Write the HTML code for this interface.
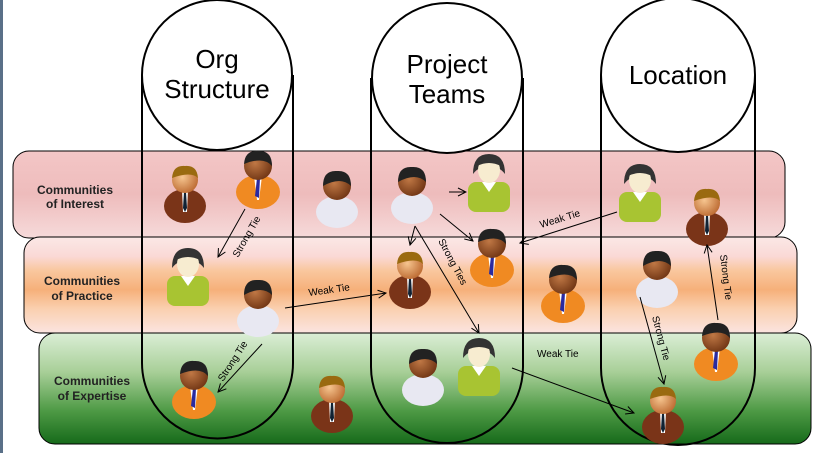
<!DOCTYPE html>
<html><head><meta charset="utf-8"><style>
body{margin:0;background:#fff;width:822px;height:453px;overflow:hidden}
svg{display:block;font-family:"Liberation Sans",Arial,sans-serif}
</style></head><body>
<svg width="822" height="453" viewBox="0 0 822 453" xmlns="http://www.w3.org/2000/svg">
<defs>
<linearGradient id="gi" x1="0" y1="0" x2="0" y2="1"><stop offset="0" stop-color="#f3c6c6"/><stop offset="0.5" stop-color="#eebcbc"/><stop offset="1" stop-color="#f6dada"/></linearGradient>
<linearGradient id="gp" x1="0" y1="0" x2="0" y2="1"><stop offset="0" stop-color="#fbe8e6"/><stop offset="0.2" stop-color="#fad9d6"/><stop offset="0.35" stop-color="#f9c79e"/><stop offset="0.55" stop-color="#f6b07a"/><stop offset="0.75" stop-color="#fad0b0"/><stop offset="1" stop-color="#fbe4e0"/></linearGradient>
<linearGradient id="ge" x1="0" y1="0" x2="0" y2="1"><stop offset="0" stop-color="#dbeed6"/><stop offset="0.35" stop-color="#a8cf98"/><stop offset="0.7" stop-color="#4e9a45"/><stop offset="1" stop-color="#166a1a"/></linearGradient>
<radialGradient id="skin" cx="0.4" cy="0.4" r="0.7"><stop offset="0" stop-color="#f6c58f"/><stop offset="1" stop-color="#b8632a"/></radialGradient>
<radialGradient id="skin2" cx="0.4" cy="0.4" r="0.7"><stop offset="0" stop-color="#c07845"/><stop offset="1" stop-color="#6a3010"/></radialGradient>
<marker id="ar" markerWidth="10" markerHeight="10" refX="9" refY="5" orient="auto" markerUnits="userSpaceOnUse"><path d="M1,1 L9,5 L1,9" fill="none" stroke="#000" stroke-width="1"/></marker>
<g id="brown"><ellipse cx="0" cy="34" rx="21" ry="17" fill="#7a3418"/><path d="M-3,18 L3,18 L2,40 L-2,40Z" fill="#fff"/><path d="M-1,20 L1,20 L2,36 L0,40 L-2,36Z" fill="#123"/><circle cx="0" cy="8" r="13" fill="url(#skin)"/><path d="M-13,6 Q-12,-7 0,-6 Q12,-7 13,6 Q6,-1 -13,6Z" fill="#9a6a10"/></g>
<g id="orange"><ellipse cx="0" cy="34" rx="22" ry="17" fill="#f08a22"/><path d="M-4,18 L4,18 L1,42 L-1,42Z" fill="#fff"/><path d="M-1,20 L2,20 L1,40 L-3,38Z" fill="#2a2aa0"/><circle cx="0" cy="8" r="14" fill="url(#skin2)"/><path d="M-14,6 Q-13,-8 0,-7 Q14,-8 14,8 Q6,-2 -14,6Z" fill="#222"/></g>
<g id="white"><ellipse cx="0" cy="34" rx="21" ry="16" fill="#e8e8f2"/><circle cx="0" cy="8" r="14" fill="url(#skin2)"/><path d="M-14,8 Q-14,-8 0,-7 Q14,-8 14,8 Q4,-2 -14,8Z" fill="#222"/></g>
<g id="green"><rect x="-21" y="20" width="42" height="30" rx="8" fill="#a8c432"/><path d="M-7,20 L0,30 L7,20Z" fill="#fff"/><path d="M-16,12 Q-16,-8 0,-8 Q16,-8 16,12 Q10,4 0,4 Q-10,4 -16,12Z" fill="#333"/><ellipse cx="0" cy="8" rx="11" ry="13" fill="#f7ecd0"/><path d="M-12,4 Q-10,-7 0,-7 Q10,-7 12,4 Q0,-2 -12,4Z" fill="#333"/></g>
</defs>
<rect x="0" y="0" width="3" height="453" fill="#5a7088"/>
<rect x="13" y="151" width="772" height="87" rx="16" fill="url(#gi)" stroke="#000" stroke-width="1"/>
<rect x="24" y="237" width="773" height="96" rx="16" fill="url(#gp)" stroke="#000" stroke-width="1"/>
<rect x="39" y="333" width="772" height="111" rx="16" fill="url(#ge)" stroke="#000" stroke-width="1"/>
<g font-size="12" font-weight="bold" fill="#222" text-anchor="middle">
<text x="75" y="194">Communities</text><text x="75" y="208">of Interest</text>
<text x="82" y="285">Communities</text><text x="82" y="300">of Practice</text>
<text x="92" y="385">Communities</text><text x="92" y="400">of Expertise</text>
</g>
<g fill="none" stroke="#000" stroke-width="2">
<path d="M142,75 L142,363 A75.5,75.5 0 0 0 293,363 L293,75"/>
<path d="M371,78 L371,367 A76,76 0 0 0 523,367 L523,78"/>
<path d="M601,75 L601,368 A77,77 0 0 0 755,368 L755,75"/>
</g>
<g fill="#fff" stroke="#000" stroke-width="2">
<circle cx="217" cy="75" r="75"/><circle cx="447" cy="78" r="75"/><circle cx="678" cy="75" r="77"/>
</g>
<g font-size="26" text-anchor="middle" fill="#000">
<text x="217" y="68">Org</text><text x="217" y="98">Structure</text>
<text x="447" y="73">Project</text><text x="447" y="103">Teams</text>
<text x="678" y="84">Location</text>
</g>
<use href="#brown" x="185" y="172"/>
<use href="#orange" x="258" y="158"/>
<use href="#white" x="337" y="178"/>
<use href="#white" x="412" y="174"/>
<use href="#green" x="489" y="162"/>
<use href="#green" x="640" y="172"/>
<use href="#brown" x="707" y="195"/>
<use href="#green" x="188" y="256"/>
<use href="#white" x="258" y="287"/>
<use href="#brown" x="410" y="258"/>
<use href="#orange" x="492" y="236"/>
<use href="#orange" x="563" y="272"/>
<use href="#white" x="657" y="258"/>
<use href="#orange" x="194" y="368"/>
<use href="#brown" x="332" y="382"/>
<use href="#white" x="423" y="356"/>
<use href="#green" x="479" y="346"/>
<use href="#orange" x="716" y="330"/>
<use href="#brown" x="663" y="393"/>
<g stroke="#000" stroke-width="1" fill="none" marker-end="url(#ar)">
<line x1="245" y1="209" x2="218" y2="257"/>
<line x1="285" y1="308" x2="386" y2="293"/>
<line x1="262" y1="344" x2="218" y2="392"/>
<line x1="449" y1="192" x2="466" y2="192"/>
<line x1="440" y1="214" x2="473" y2="241"/>
<line x1="415" y1="226" x2="410" y2="245"/>
<line x1="415" y1="226" x2="479" y2="333"/>
<line x1="617" y1="212" x2="520" y2="243"/>
<line x1="512" y1="368" x2="634" y2="413"/>
<line x1="640" y1="297" x2="664" y2="384"/>
<line x1="718" y1="320" x2="707" y2="245"/>
</g>
<g font-size="10" fill="#000">
<text transform="translate(238,258) rotate(-60)">Strong Tie</text>
<text transform="translate(309,296) rotate(-8)">Weak Tie</text>
<text transform="translate(223,382) rotate(-57)">Strong Tie</text>
<text transform="translate(438,241) rotate(62)">Strong Ties</text>
<text transform="translate(541,228) rotate(-17)">Weak Tie</text>
<text x="537" y="357">Weak Tie</text>
<text transform="translate(652,317) rotate(75)">Strong Tie</text>
<text transform="translate(720,255) rotate(83)">Strong Tie</text>
</g>
</svg>
</body></html>
